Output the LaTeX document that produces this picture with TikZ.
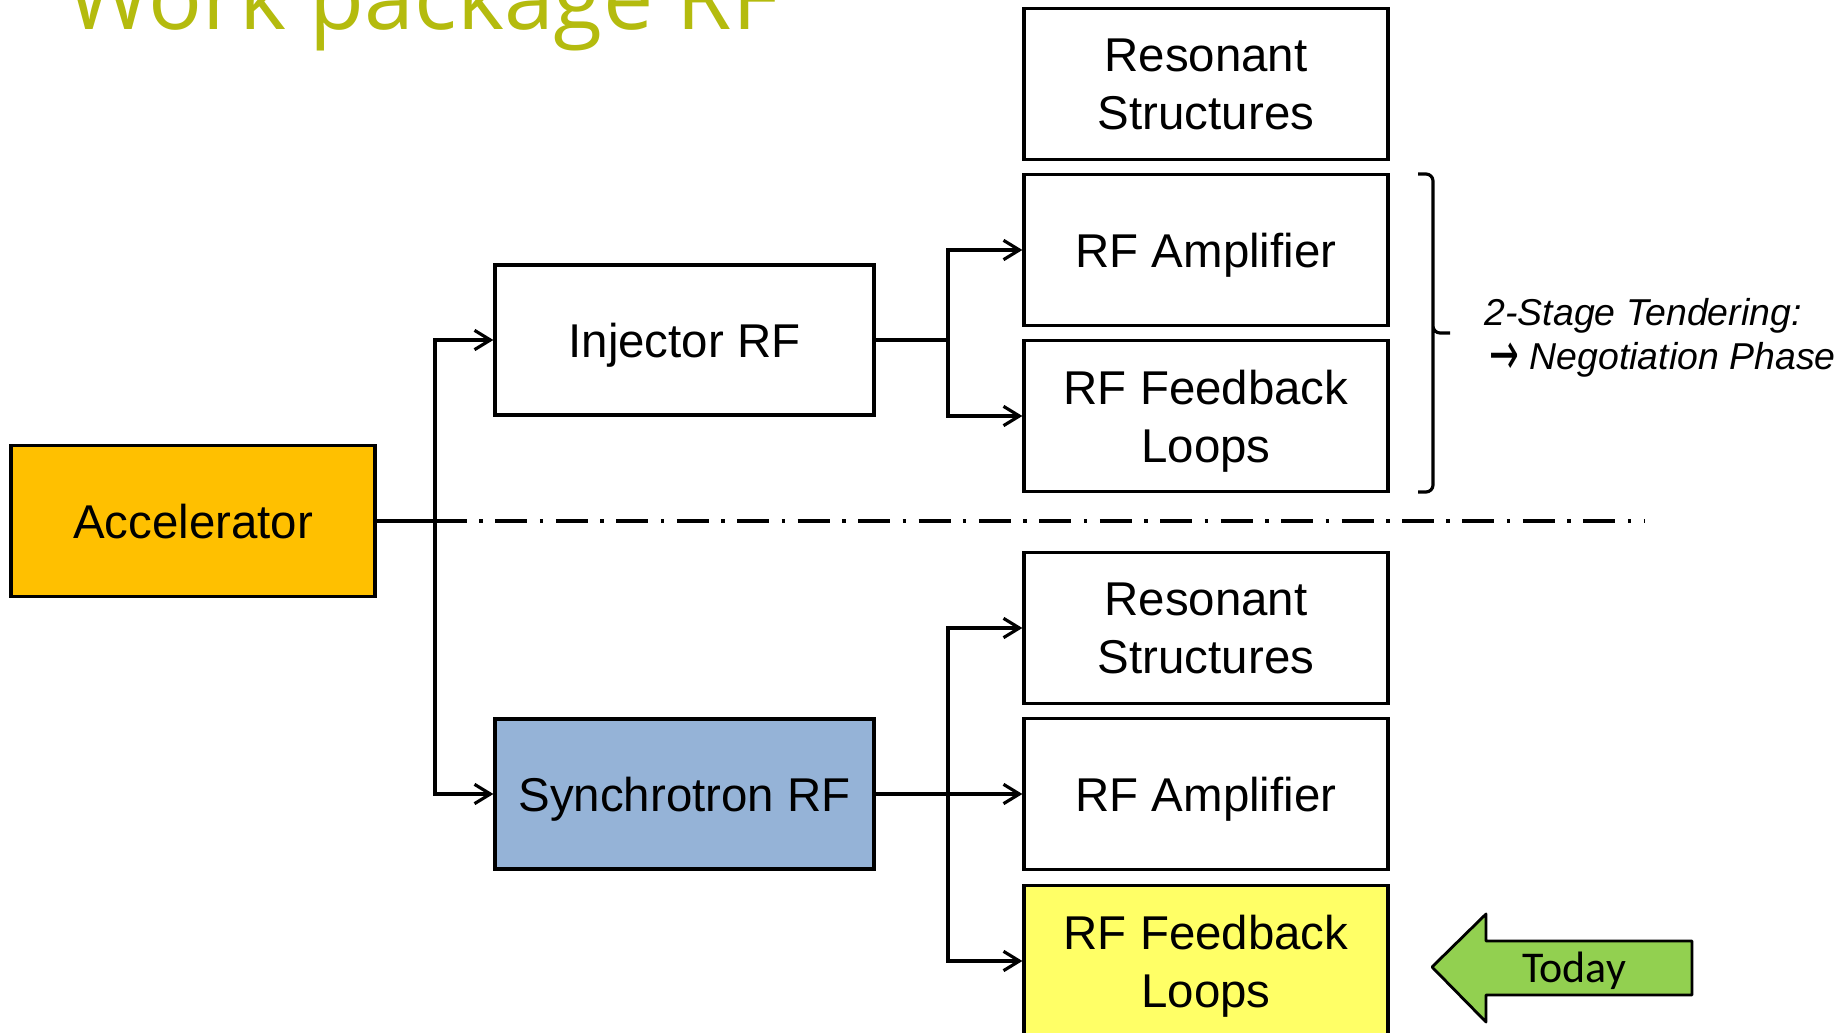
\documentclass[tikz,border=0pt]{standalone}
\usepackage{fontspec}
\usepackage{graphicx}
\setmainfont{Liberation Sans}
\newfontfamily\titlefont{Open Sans}
\newfontfamily\todayfont{Carlito}
\newfontfamily\arrowfont{DejaVu Sans}
\usetikzlibrary{calc,arrows.meta}
\definecolor{titlegreen}{RGB}{180,187,14}
\definecolor{accorange}{HTML}{FFC000}
\definecolor{synblue}{HTML}{95B3D7}
\definecolor{loopyellow}{HTML}{FFFF66}
\definecolor{todaygreen}{HTML}{92D050}

\begin{document}
\begin{tikzpicture}[x=0.02cm,y=-0.02cm,line width=1.8pt,>={Straight Barb[length=9pt,width=11pt]}]
    \tikzstyle{box}=[draw=black,line width=1.9pt,minimum width=7.28cm,minimum height=3.02cm,inner sep=0pt,align=center,text depth=0pt,font=\fontsize{27}{33}\selectfont]
    \tikzstyle{wide}=[box,minimum width=7.58cm,minimum height=3cm]
    \tikzstyle{note}=[anchor=base west,inner sep=0pt,font=\itshape\fontsize{21.3}{25}\selectfont]
    \useasboundingbox (0,0) rectangle (1845,1033);
    \node[anchor=base west,inner sep=0pt,text=titlegreen,font=\titlefont\fontsize{51}{51}\selectfont] (title) at (66,30) {Work package RF};
    % left side
    \node[box,fill=accorange] (acc) at (193,521) {Accelerator};
    \node[wide] (inj) at (684.5,340) {Injector RF};
    \node[wide,fill=synblue] (syn) at (684.5,794) {Synchrotron RF};
    % right column
    \node[box] (res1) at (1206,84) {Resonant\\Structures};
    \node[box] (amp1) at (1206,250) {RF Amplifier};
    \node[box] (fb1) at (1206,416) {RF Feedback\\Loops};
    \node[box] (res2) at (1206,628) {Resonant\\Structures};
    \node[box] (amp2) at (1206,794) {RF Amplifier};
    \node[box,fill=loopyellow] (fb2) at (1206,961) {RF Feedback\\Loops};
    % connectors
    \coordinate (t) at (435,521);
    \coordinate (j1) at (948,340);
    \coordinate (j2) at (948,794);
    \draw (acc.east) -- (t);
    \draw[->] (t) |- (inj.west);
    \draw[->] (t) |- (syn.west);
    \draw (inj.east) -- (j1);
    \draw[->] (j1) |- (amp1.west);
    \draw[->] (j1) |- (fb1.west);
    \draw (syn.east) -- (j2);
    \draw[->] (j2) |- (res2.west);
    \draw[->] (j2) -- (amp2.west);
    \draw[->] (j2) |- (fb2.west);
    % separator
    \coordinate (sepend) at (1644,521);
    \draw[dash pattern=on 18.2pt off 7.1pt on 2pt off 7.1pt] (t) -- (sepend);
    % bracket with tendering note
    \draw[rounded corners=4pt] (1418,174) -| (1433,333) -- (1450,333) (1433,320) |- (1418,492);
    \node[note] (tender1) at (1483,326) {2-Stage Tendering:};
    \node[note] (tender2) at (1488,370) {\raisebox{-0.12em}{\scalebox{0.95}[1.6]{\arrowfont →}} Negotiation Phase};
    % today marker
    \draw[fill=todaygreen,line width=1.6pt,line join=round] (1432,967) -- (1486,914) -- (1486,941) -- (1692,941) -- (1692,995) -- (1486,995) -- (1486,1022) -- cycle;
    \node[anchor=base,inner sep=0pt,font=\todayfont\fontsize{25}{25}\selectfont] (today) at (1574,982) {Today};
\end{tikzpicture}
\end{document}
